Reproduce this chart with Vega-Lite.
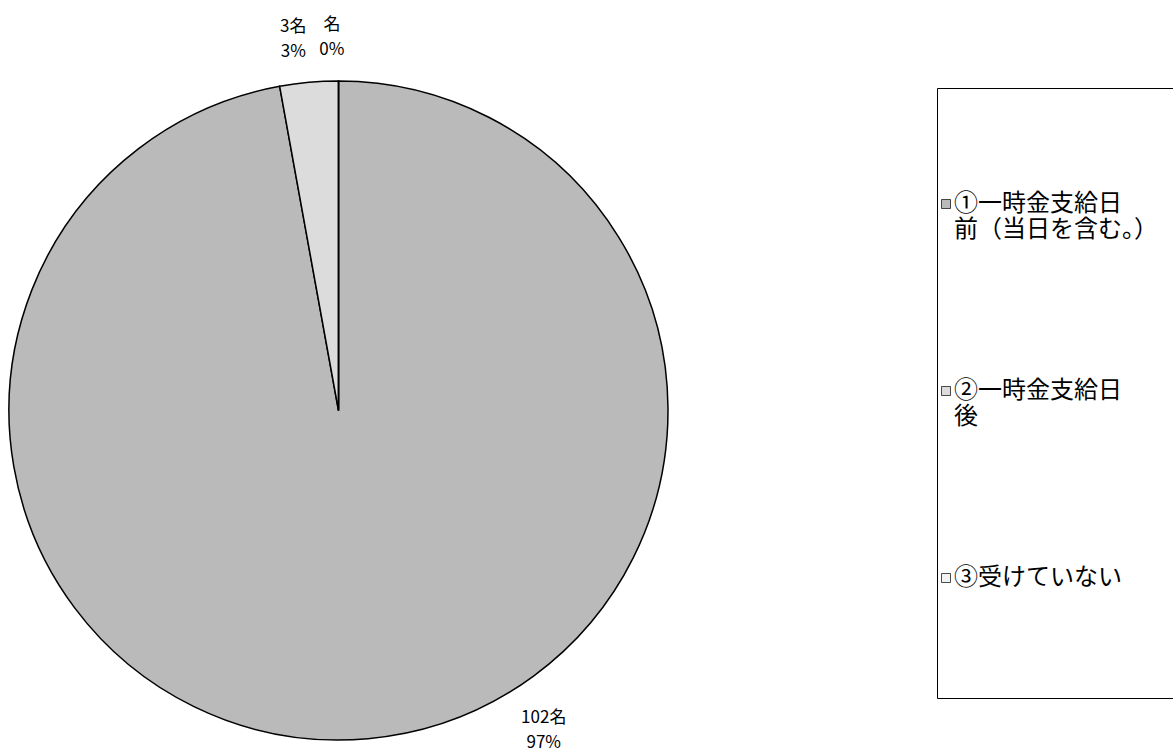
{
  "$schema": "https://vega.github.io/schema/vega-lite/v6.json",
  "autosize": {"type": "none"},
  "width": 659,
  "height": 659,
  "padding": {"left": 9, "top": 81, "right": 505, "bottom": 11},
  "background": "white",
  "config": {"view": {"stroke": null}, "font": "Noto Sans CJK JP"},
  "data": {
    "values": [
      {"category": "①一時金支給日\n前（当日を含む。）", "count": 102, "label": "102名\n97%"},
      {"category": "②一時金支給日\n後", "count": 3, "label": "3名\n3%"},
      {"category": "③受けていない", "count": 0, "label": "名\n0%"}
    ]
  },
  "resolve": {"scale": {"theta": "independent"}},
  "layer": [
    {
      "mark": {"type": "arc", "stroke": "black", "strokeWidth": 1.5},
      "encoding": {
        "theta": {"field": "count", "type": "quantitative", "stack": true},
        "order": {"field": "category", "type": "nominal", "sort": "ascending"},
        "color": {
          "field": "category",
          "type": "nominal",
          "scale": {
            "domain": ["①一時金支給日\n前（当日を含む。）", "②一時金支給日\n後", "③受けていない"],
            "range": ["#bababa", "#dcdcdc", "#f2f2f2"]
          },
          "legend": {
            "orient": "none",
            "legendX": 928,
            "legendY": 7,
            "title": " ",
            "titleFontSize": 10,
            "titlePadding": 90,
            "labelExpr": "datum.label == '③受けていない' ? ['③受けていない', '', '', '', '\u2800\u2800\u2800\u2800\u2800\u2800\u2800\u2800\u2800\u2800\u2800\u2800\u2800\u2800\u2800\u2800\u2800\u2800\u2800\u2800'] : split(datum.label, '\\n')",
            "labelFont": "Noto Sans CJK JP",
            "labelFontSize": 24,
            "labelColor": "black",
            "labelLimit": 600,
            "labelBaseline": "middle",
            "labelOffset": -4,
            "symbolOffset": -7,
            "symbolType": "square",
            "symbolSize": 81,
            "symbolStrokeColor": "black",
            "symbolStrokeWidth": 0.7,
            "strokeColor": "black",
            "fillColor": "white",
            "padding": 4,
            "rowPadding": 137
          }
        }
      }
    },
    {
      "mark": {"type": "text", "lineBreak": "\n", "fontSize": 17, "lineHeight": 25, "dy": -9, "font": "Noto Sans CJK JP", "color": "black", "radius": 377},
      "encoding": {
        "theta": {"field": "count", "type": "quantitative", "stack": true, "scale": {"domain": [0, 105], "range": [-0.9285, 6.2657]}},
        "order": {"field": "category", "type": "nominal", "sort": "ascending"},
        "text": {"field": "label", "type": "nominal"}
      }
    }
  ]
}
